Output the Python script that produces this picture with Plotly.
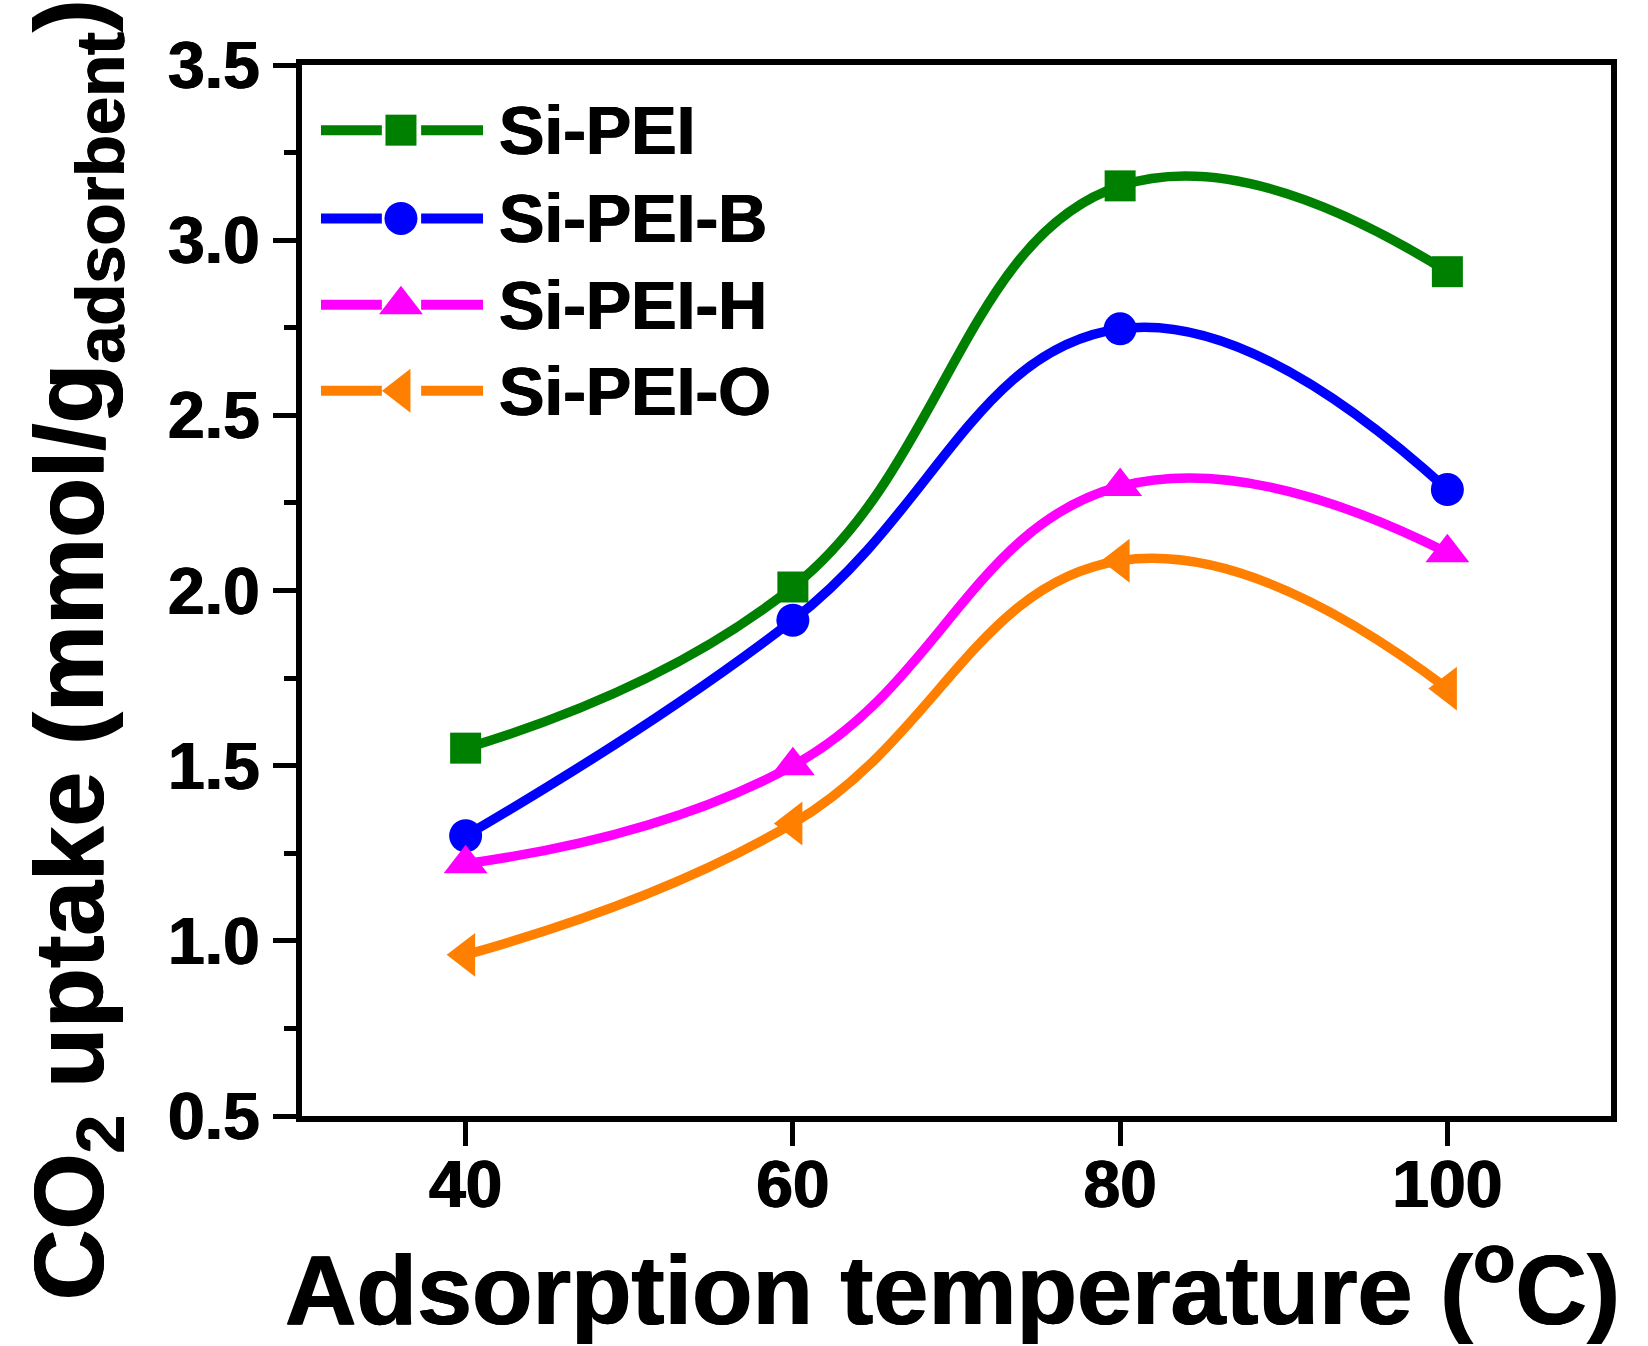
import plotly.graph_objects as go

temps = [40, 60, 80, 100]
series_names = ["Si-PEI", "Si-PEI-B", "Si-PEI-H", "Si-PEI-O"]
si_pei = [1.55, 2.01, 3.155, 2.91]
si_pei_b = [1.30, 1.915, 2.747, 2.288]
si_pei_h = [1.22, 1.50, 2.297, 2.108]
si_pei_o = [0.96, 1.335, 2.085, 1.72]
colors = ["#008000", "#0000FF", "#FF00FF", "#FF8000"]
symbols = ["square", "circle", "triangle-up", "triangle-left"]
marker_sizes = [31, 33, 38, 38]
y_ticks = [0.5, 1.0, 1.5, 2.0, 2.5, 3.0, 3.5]
x_ticks = [40, 60, 80, 100]

FONT = "Liberation Sans, Arial, Helvetica, sans-serif"
HEAVY = "0.7px 0px 0px black, -0.7px 0px 0px black"
W, H = 1648, 1346
ML, MR, MT, MB = 302, 37, 65, 230

fig = go.Figure()
all_vals = [si_pei, si_pei_b, si_pei_h, si_pei_o]
for name, vals, c, s, ms in zip(series_names, all_vals, colors, symbols, marker_sizes):
    fig.add_trace(go.Scatter(
        x=temps, y=vals, mode="lines+markers", name=name,
        line=dict(color=c, width=9.5, shape="spline", smoothing=1.25),
        marker=dict(symbol=s, size=ms, color=c, line=dict(width=0)),
        showlegend=False, cliponaxis=False))

# custom legend on an overlay axis (paper-like 0..1 coords)
leg_rows = [0.938, 0.854, 0.772, 0.690]
seg_l = [0.0145, 0.061]
seg_r = [0.091, 0.1383]
mark_x = 0.0756
text_x = 0.149
for name, c, s, ms, ry in zip(series_names, colors, symbols, marker_sizes, leg_rows):
    for seg in (seg_l, seg_r):
        fig.add_trace(go.Scatter(x=seg, y=[ry, ry], mode="lines", xaxis="x2", yaxis="y2",
                                 line=dict(color=c, width=10), showlegend=False, hoverinfo="skip"))
    fig.add_trace(go.Scatter(x=[mark_x], y=[ry], mode="markers", xaxis="x2", yaxis="y2",
                             marker=dict(symbol=s, size=ms, color=c), showlegend=False, hoverinfo="skip"))
    fig.add_annotation(x=text_x, y=ry, xref="paper", yref="paper", text=name, showarrow=False,
                       xanchor="left", yanchor="middle",
                       font=dict(family=FONT, size=68, color="black", weight="bold", shadow=HEAVY))

fig.add_annotation(x=0.497, y=-0.158, xref="paper", yref="paper",
                   text="Adsorption temperature (<sup>o</sup>C)", showarrow=False,
                   xanchor="center", yanchor="middle",
                   font=dict(family=FONT, size=99, color="black", weight="bold", shadow=HEAVY))
fig.add_annotation(x=-0.172, y=0.444, xref="paper", yref="paper",
                   text="CO<sub>2</sub> uptake (mmol/g<sub>adsorbent</sub>)", showarrow=False,
                   textangle=-90, xanchor="center", yanchor="middle",
                   font=dict(family=FONT, size=98, color="black", weight="bold", shadow=HEAVY))

tickfont = dict(family=FONT, size=66, color="black", weight="bold", shadow=HEAVY)
fig.update_layout(
    width=W, height=H,
    margin=dict(l=ML, r=MR, t=MT, b=MB),
    paper_bgcolor="white", plot_bgcolor="white",
    font=dict(family=FONT, color="black", weight="bold"),
    xaxis=dict(range=[30, 110], tickvals=x_ticks, ticks="outside", ticklen=24, tickwidth=5,
               tickcolor="black", showline=True, linewidth=6, linecolor="black", mirror=True,
               showgrid=False, zeroline=False, ticklabelstandoff=-18,
               tickfont=tickfont),
    yaxis=dict(range=[0.5, 3.5], tickvals=y_ticks, tickformat=".1f", ticks="outside",
               ticklen=23, tickwidth=5, tickcolor="black", showline=True, linewidth=6,
               linecolor="black", mirror=True, showgrid=False, zeroline=False,
               minor=dict(dtick=0.25, tick0=0.5, ticks="outside", ticklen=12, tickwidth=5,
                          tickcolor="black", showgrid=False),
               tickfont=tickfont),
    xaxis2=dict(range=[0, 1], domain=[0, 1], overlaying="x", visible=False, fixedrange=True),
    yaxis2=dict(range=[0, 1], domain=[0, 1], overlaying="y", visible=False, fixedrange=True),
)

fig.write_html("out.html")
